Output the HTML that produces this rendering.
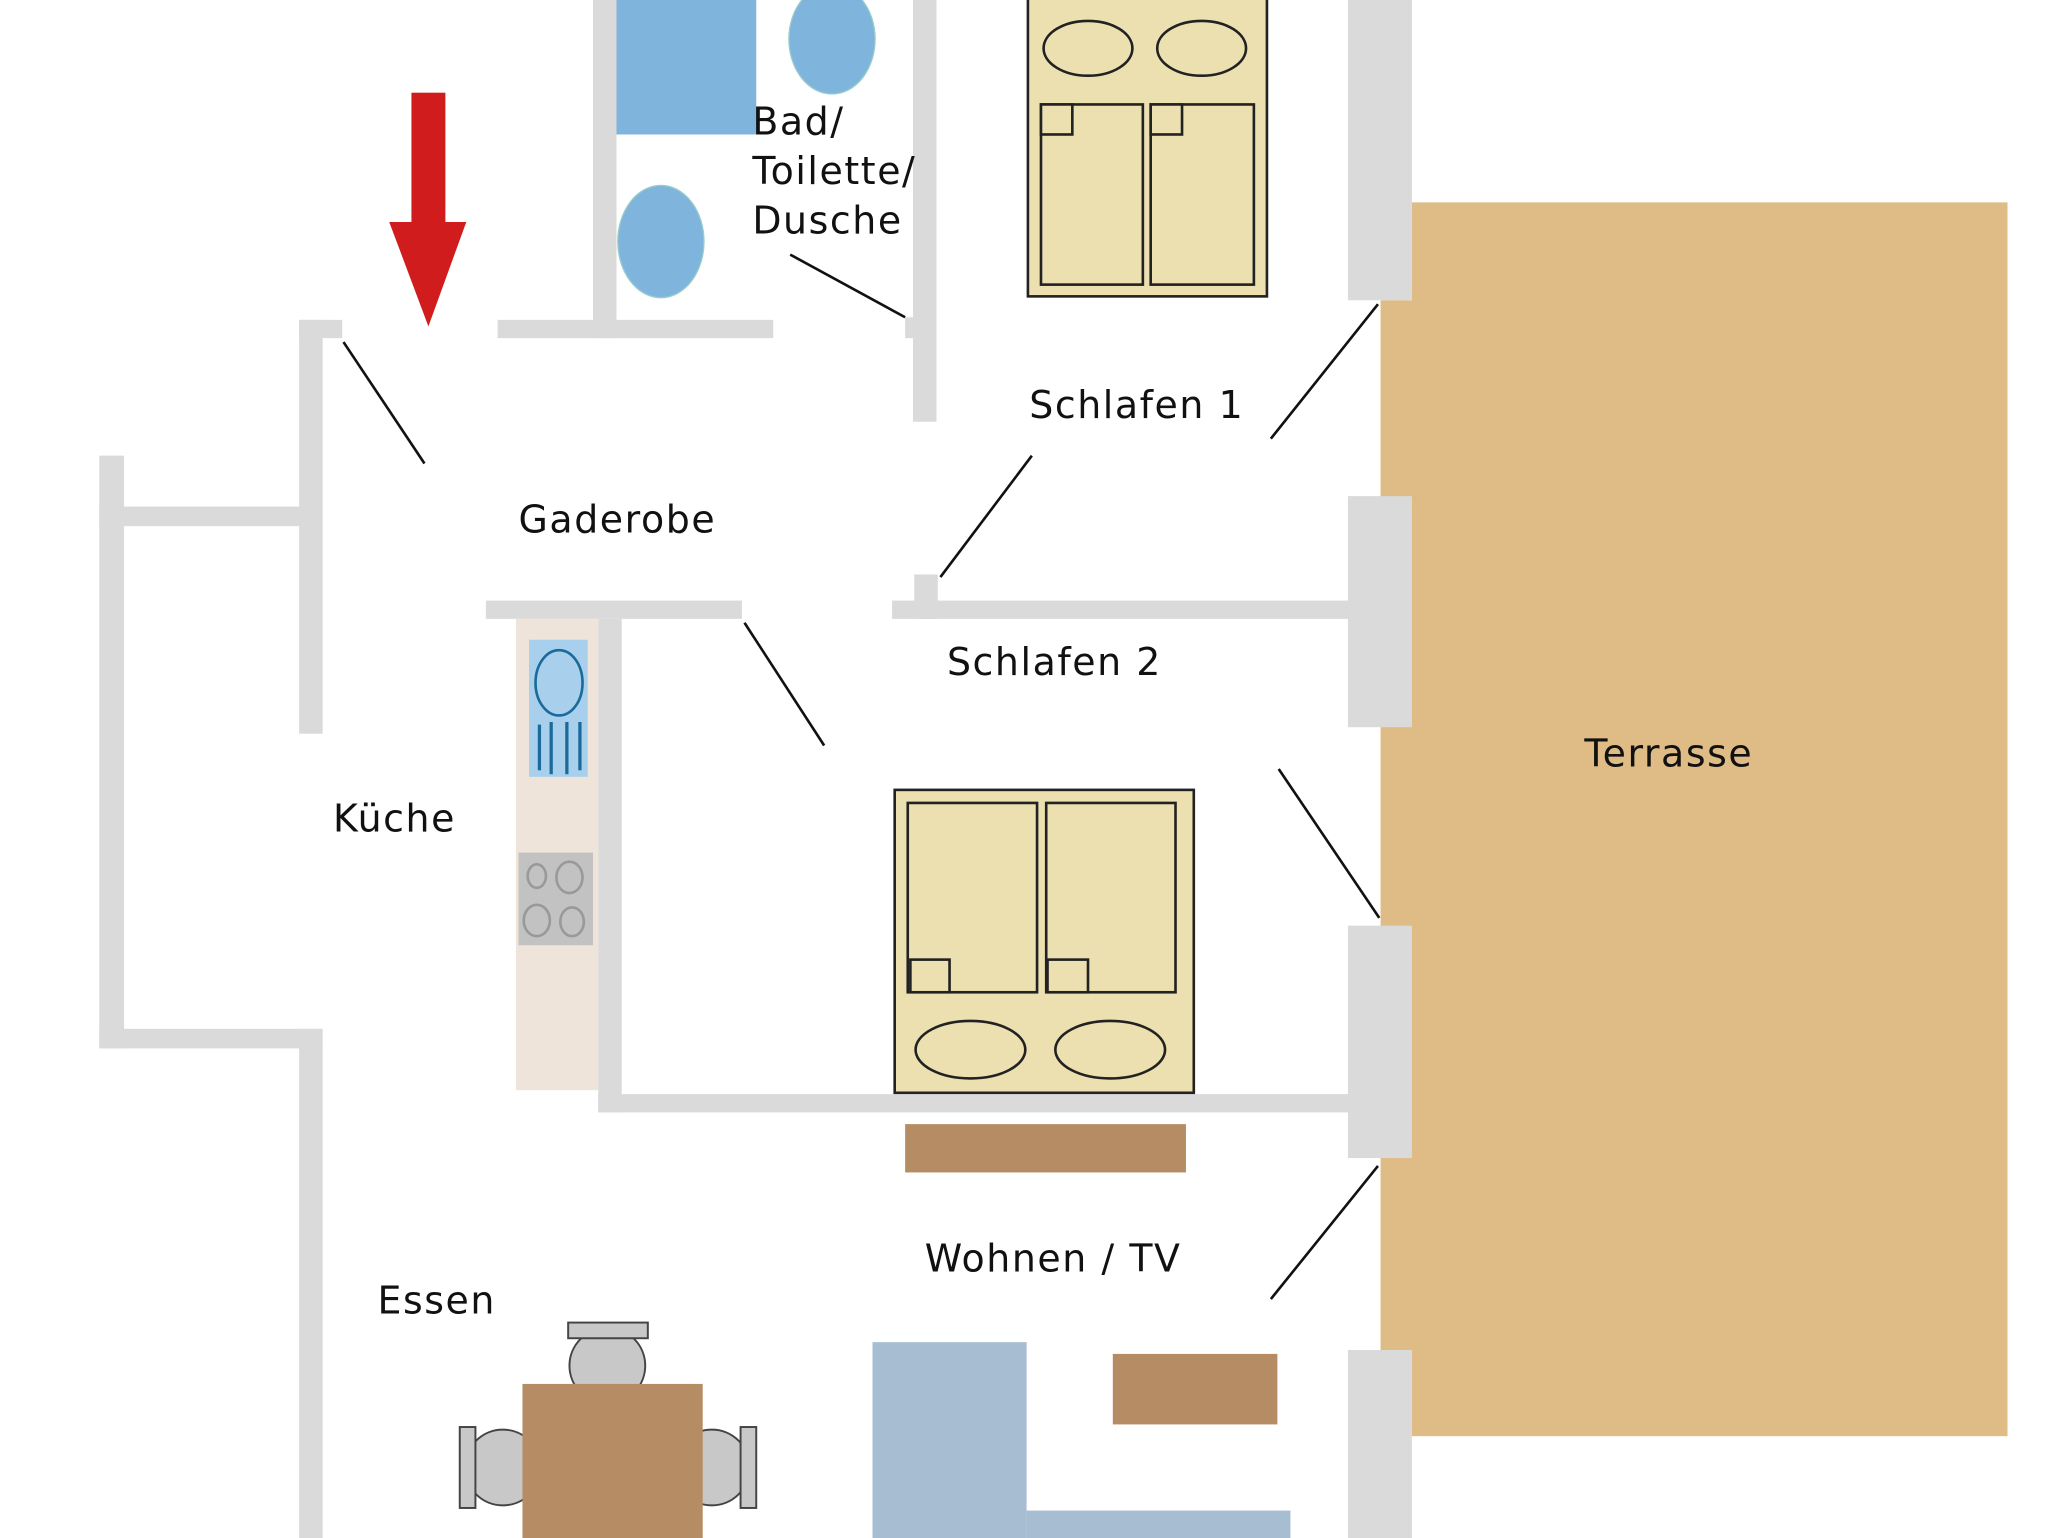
<!DOCTYPE html>
<html><head><meta charset="utf-8"><style>html,body{margin:0;padding:0;background:#fff}svg{display:block}</style></head>
<body>
<svg width="2048" height="1538" viewBox="0 0 1568 1178" preserveAspectRatio="none" xmlns="http://www.w3.org/2000/svg">
<rect width="1568" height="1178" fill="#fff"/>
<rect x="1081" y="155" width="456" height="945" fill="#dfbb85"/>
<rect x="1057" y="230" width="26" height="805" fill="#dfbb85"/>
<g fill="#dadada">
<rect x="76" y="349" width="19" height="454"/>
<rect x="76" y="388" width="160" height="15"/>
<rect x="229" y="245" width="18" height="317"/>
<rect x="229" y="245" width="33" height="14"/>
<rect x="76" y="788" width="171" height="15"/>
<rect x="229" y="788" width="18" height="390"/>
<rect x="381" y="245" width="211" height="14"/>
<rect x="454" y="0" width="18" height="259"/>
<rect x="699" y="0" width="18" height="323"/>
<rect x="693" y="243" width="8" height="16"/>
<rect x="1032" y="0" width="49" height="230"/>
<rect x="1032" y="380" width="49" height="177"/>
<rect x="1032" y="709" width="49" height="178"/>
<rect x="1032" y="1034" width="49" height="144"/>
<rect x="372" y="460" width="196" height="14"/>
<rect x="683" y="460" width="350" height="14"/>
<rect x="700" y="440" width="18" height="34"/>
<rect x="458" y="474" width="18" height="378"/>
<rect x="458" y="838" width="575" height="14"/>
</g>
<rect x="472" y="0" width="107" height="103" fill="#7fb5dc"/>
<ellipse cx="637" cy="30" rx="33" ry="42" fill="#7fb5dc" stroke="#9cc" stroke-width="1"/>
<ellipse cx="506" cy="185" rx="33" ry="43" fill="#7fb5dc" stroke="#9cc" stroke-width="1"/>
<rect x="395" y="474" width="63" height="361" fill="#efe4da"/>
<rect x="405" y="490" width="45" height="105" fill="#a8d0ec"/>
<ellipse cx="428" cy="523" rx="18" ry="25" fill="none" stroke="#1a6a9a" stroke-width="2"/>
<g stroke="#1a6a9a" stroke-width="2.5"><line x1="413" y1="555" x2="413" y2="590"/><line x1="422" y1="553" x2="422" y2="593"/><line x1="434" y1="553" x2="434" y2="593"/><line x1="444" y1="553" x2="444" y2="590"/></g>
<rect x="397" y="653" width="57" height="71" fill="#c2c2c2"/>
<g fill="none" stroke="#999" stroke-width="2"><ellipse cx="411" cy="671" rx="7" ry="9"/><ellipse cx="436" cy="672" rx="10" ry="12"/><ellipse cx="411" cy="705" rx="10" ry="12"/><ellipse cx="438" cy="706" rx="9" ry="11"/></g>
<g fill="#ede0b0" stroke="#222" stroke-width="2">
<rect x="787" y="-2" width="183" height="229"/>
<ellipse cx="833" cy="37" rx="34" ry="21"/><ellipse cx="920" cy="37" rx="34" ry="21"/>
<rect x="797" y="80" width="78" height="138"/><rect x="881" y="80" width="79" height="138"/>
<rect x="797" y="80" width="24" height="23"/><rect x="881" y="80" width="24" height="23"/>
<rect x="685" y="605" width="229" height="232"/>
<rect x="695" y="615" width="99" height="145"/><rect x="801" y="615" width="99" height="145"/>
<rect x="697" y="735" width="30" height="25"/><rect x="802" y="735" width="31" height="25"/>
<ellipse cx="743" cy="804" rx="42" ry="22"/><ellipse cx="850" cy="804" rx="42" ry="22"/>
</g>
<rect x="693" y="861" width="215" height="37" fill="#b58c63"/>
<rect x="852" y="1037" width="126" height="54" fill="#b58c63"/>
<rect x="668" y="1028" width="118" height="150" fill="#a7bdd1"/>
<rect x="786" y="1157" width="202" height="21" fill="#a7bdd1"/>
<g fill="#c8c8c8" stroke="#444" stroke-width="1.5">
<circle cx="465" cy="1046" r="29"/><rect x="435" y="1013" width="61" height="12"/>
<circle cx="385" cy="1124" r="29"/><rect x="352" y="1093" width="12" height="62"/>
<circle cx="545" cy="1124" r="29"/><rect x="567" y="1093" width="12" height="62"/>
</g>
<rect x="400" y="1060" width="138" height="118" fill="#b58c63"/>
<g stroke="#111" stroke-width="2">
<line x1="263" y1="262" x2="325" y2="355"/><line x1="605" y1="195" x2="693" y2="243"/>
<line x1="790" y1="349" x2="720" y2="442"/><line x1="973" y1="336" x2="1055" y2="233"/>
<line x1="570" y1="477" x2="631" y2="571"/><line x1="979" y1="589" x2="1056" y2="703"/>
<line x1="973" y1="995" x2="1055" y2="893"/>
</g>
<rect x="315" y="71" width="26" height="104" fill="#d01c1c"/>
<polygon points="298,170 357,170 328,250" fill="#d01c1c"/>
<g font-family="'DejaVu Sans','Liberation Sans',sans-serif" font-size="29" fill="#111" letter-spacing="1.2">
<text x="576" y="103">Bad/</text><text x="576" y="141">Toilette/</text><text x="576" y="179">Dusche</text>
<text x="788" y="320">Schlafen 1</text>
<text x="397" y="408">Gaderobe</text>
<text x="725" y="517">Schlafen 2</text>
<text x="1213" y="587">Terrasse</text>
<text x="255" y="637">Küche</text>
<text x="708" y="974">Wohnen / TV</text>
<text x="289" y="1006">Essen</text>
</g>
</svg>
</body></html>
